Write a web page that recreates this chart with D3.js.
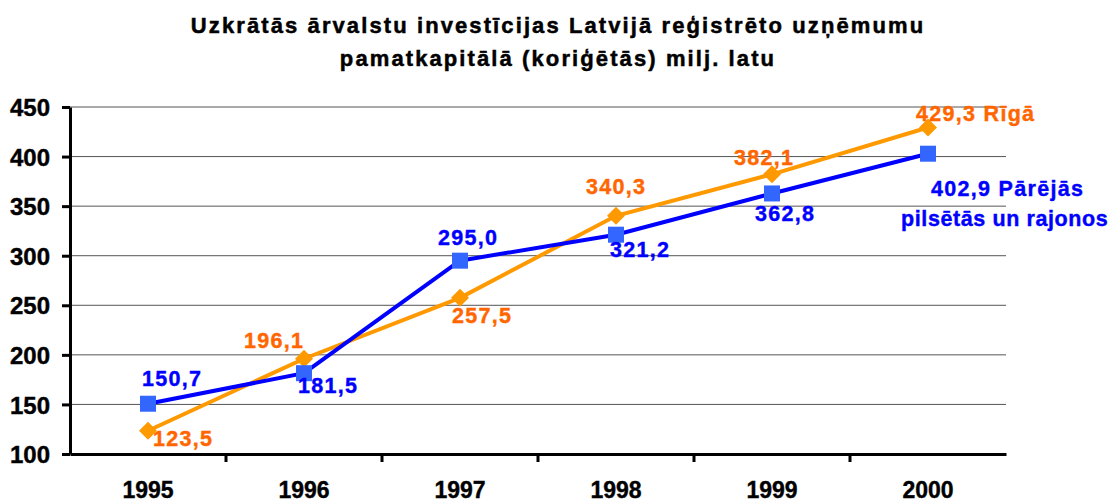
<!DOCTYPE html>
<html>
<head>
<meta charset="utf-8">
<script src="https://d3js.org/d3.v7.min.js"></script>
<style>
  body { margin: 0; background: #fff; }
  text { font-family: "Liberation Sans", Arial, sans-serif; font-weight: bold; }
</style>
</head>
<body>
<script>
// data
var years = ["1995", "1996", "1997", "1998", "1999", "2000"];
var riga = [123.5, 196.1, 257.5, 340.3, 382.1, 429.3];
var other = [150.7, 181.5, 295.0, 321.2, 362.8, 402.9];
var yTicks = [100, 150, 200, 250, 300, 350, 400, 450];
var titleLines = ["Uzkrātās ārvalstu investīcijas Latvijā reģistrēto uzņēmumu",
                  "pamatkapitālā (koriģētās) milj. latu"];
var rigaName = "Rīgā";
var otherName = ["Pārējās", "pilsētās un rajonos"];

// label placement (pixel offsets from point, start-anchored)
var rigaLab = [[5, 15], [-60, -11], [-8, 25], [-30, -22], [-38, -9], [-12, -7]];
var otherLab = [[-6, -18], [-6, 20], [-22, -16], [-6, 22], [-17, 28], [3, 42]];

var W = 1117, H = 502;
var margin = {top: 107, right: 111, bottom: 48, left: 70};

var svg = d3.select("body").append("svg")
    .attr("width", W)
    .attr("height", H);

var x = d3.scaleBand().domain(years).range([margin.left, W - margin.right]);
var y = d3.scaleLinear().domain([100, 450]).range([H - margin.bottom, margin.top]);
var cx = function (d) { return x(d) + x.bandwidth() / 2; };
var fmt = function (v) { return v.toFixed(1).replace(".", ","); };

// title
svg.append("g").selectAll("text")
    .data(titleLines)
    .enter().append("text")
    .attr("x", 558)
    .attr("y", function (d, i) { return 33 + i * 33; })
    .attr("text-anchor", "middle")
    .style("font-size", "22px")
    .style("letter-spacing", "2.1px")
    .style("stroke", "#000")
    .style("stroke-width", 0.5)
    .text(function (d) { return d; });

// gridlines
svg.append("g").selectAll("line")
    .data(yTicks.slice(1))
    .enter().append("line")
    .attr("x1", margin.left)
    .attr("x2", W - margin.right)
    .attr("y1", function (d) { return y(d); })
    .attr("y2", function (d) { return y(d); })
    .style("stroke", "#555")
    .style("stroke-width", 1);

// axes
var yAxis = svg.append("g")
    .attr("transform", "translate(" + margin.left + ",0)")
    .call(d3.axisLeft(y).tickValues(yTicks).tickSize(8).tickPadding(12).tickSizeOuter(0));
var xAxis = svg.append("g")
    .attr("transform", "translate(0," + (H - margin.bottom) + ")")
    .call(d3.axisBottom(x).tickSize(0).tickPadding(28));

[yAxis, xAxis].forEach(function (a) {
    a.select(".domain").style("stroke", "#000").style("stroke-width", 3);
    a.selectAll("line").style("stroke", "#000").style("stroke-width", 3);
    a.selectAll("text").style("fill", "#000")
        .style("stroke", "#000").style("stroke-width", 0.4)
        .style("font-family", "Liberation Sans, Arial, sans-serif").style("font-weight", "bold");
});
yAxis.selectAll("text").style("font-size", "24px").attr("dy", "0.36em");
xAxis.selectAll("text").style("font-size", "23px");

// x tick marks at category borders
xAxis.selectAll(".sep")
    .data(years.slice(1))
    .enter().append("line")
    .attr("x1", function (d) { return x(d); })
    .attr("x2", function (d) { return x(d); })
    .attr("y1", 0)
    .attr("y2", 8)
    .style("stroke", "#000")
    .style("stroke-width", 3);

// lines
var line = d3.line()
    .x(function (d, i) { return cx(years[i]); })
    .y(function (d) { return y(d); });

svg.append("path").datum(riga)
    .attr("d", line)
    .style("fill", "none")
    .style("stroke", "#FF9900")
    .style("stroke-width", 4);

svg.append("path").datum(other)
    .attr("d", line)
    .style("fill", "none")
    .style("stroke", "#0000FF")
    .style("stroke-width", 4);

// markers
svg.append("g").selectAll("path")
    .data(riga)
    .enter().append("path")
    .attr("transform", function (d, i) { return "translate(" + cx(years[i]) + "," + y(d) + ")"; })
    .attr("d", "M0,-9L9,0L0,9L-9,0Z")
    .style("fill", "#FF9900");

svg.append("g").selectAll("rect")
    .data(other)
    .enter().append("rect")
    .attr("x", function (d, i) { return cx(years[i]) - 8; })
    .attr("y", function (d) { return y(d) - 8; })
    .attr("width", 16)
    .attr("height", 16)
    .style("fill", "#3366FF");

// value labels
svg.append("g").selectAll("text")
    .data(riga)
    .enter().append("text")
    .attr("x", function (d, i) { return cx(years[i]) + rigaLab[i][0]; })
    .attr("y", function (d, i) { return y(d) + rigaLab[i][1]; })
    .style("font-size", "21.5px")
    .style("letter-spacing", "1.3px")
    .style("fill", "#FF6600")
    .style("stroke", "#FF6600")
    .style("stroke-width", 0.4)
    .text(function (d, i) { return fmt(d) + (i === riga.length - 1 ? " " + rigaName : ""); });

var ol = svg.append("g").selectAll("text")
    .data(other)
    .enter().append("text")
    .attr("x", function (d, i) { return cx(years[i]) + otherLab[i][0]; })
    .attr("y", function (d, i) { return y(d) + otherLab[i][1]; })
    .style("font-size", "21.5px")
    .style("letter-spacing", "1.3px")
    .style("fill", "#0000FF")
    .style("stroke", "#0000FF")
    .style("stroke-width", 0.4);

ol.each(function (d, i) {
    var t = d3.select(this);
    if (i === other.length - 1) {
        t.append("tspan").text(fmt(d) + " " + otherName[0]);
        t.append("tspan")
            .attr("x", cx(years[i]) + otherLab[i][0] - 30)
            .attr("dy", 30)
            .style("letter-spacing", "0.6px")
            .text(otherName[1]);
    } else {
        t.text(fmt(d));
    }
});
</script>
</body>
</html>
